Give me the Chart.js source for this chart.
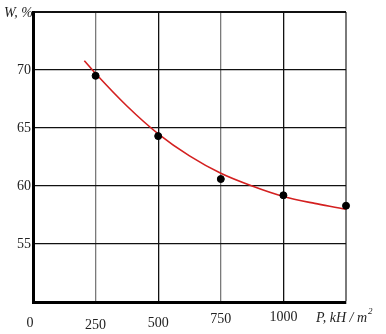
<!DOCTYPE html>
<html>
<head>
<meta charset="utf-8">
<script src="https://cdn.jsdelivr.net/npm/chart.js@4"></script>
<style>
  html, body { margin: 0; padding: 0; background: #fff; }
  #wrap { width: 386px; height: 334px; }
</style>
</head>
<body>
<div id="wrap"><canvas id="chart" width="386" height="334"></canvas></div>
<script>
// measured points
const pressure = [250, 500, 750, 1000, 1250];
const moisture = [69.5, 64.3, 60.6, 59.2, 58.3];

// fitted curve
const curveP = [205, 250, 375, 500, 625, 750, 875, 1000, 1125, 1250, 1270];
const curveW = [70.8, 69.7, 66.9, 64.5, 62.6, 61.1, 60.0, 59.1, 58.5, 58.0, 57.9];

const xTicks = [0, 250, 500, 750, 1000];
const xTickShift = [0, 2, 0, -4, -6];  // labels sit a bit uneven in the scan
const yTicks = [55, 60, 65, 70];

const serif = '"Liberation Serif", "DejaVu Serif", serif';

const labelsPlugin = {
    id: 'labels',
    afterDraw: function (chart) {
        const ctx = chart.ctx;
        const xs = chart.scales.x, ys = chart.scales.y;
        ctx.save();
        ctx.fillStyle = '#222';
        ctx.font = '14px ' + serif;
        ctx.textBaseline = 'middle';

        ctx.textAlign = 'right';
        yTicks.forEach(function (v) {
            ctx.fillText(String(v), xs.left - 2, ys.getPixelForValue(v));
        });

        ctx.textAlign = 'center';
        xTicks.forEach(function (v, i) {
            const px = v === 0 ? xs.getPixelForValue(v) - 3 : xs.getPixelForValue(v);
            ctx.fillText(String(v), px, ys.bottom + 21 + xTickShift[i]);
        });

        ctx.font = 'italic 14px ' + serif;
        ctx.textAlign = 'left';
        ctx.fillText('P, kH / m', xs.right - 30, ys.bottom + 16);
        const w = ctx.measureText('P, kH / m').width;
        ctx.font = 'italic 9px ' + serif;
        ctx.fillText('2', xs.right - 30 + w + 1, ys.bottom + 10);

        ctx.font = 'italic 14px ' + serif;
        ctx.textAlign = 'right';
        ctx.fillText('W, %', xs.left, ys.top + 1);
        ctx.restore();
    }
};

new Chart(document.getElementById('chart'), {
    type: 'scatter',
    data: {
        datasets: [{
            label: 'curve',
            data: curveP.map(function (p, i) { return { x: p, y: curveW[i] }; }),
            showLine: true,
            borderColor: '#d42020',
            borderWidth: 1.6,
            pointRadius: 0,
            cubicInterpolationMode: 'monotone',
            clip: false,
            order: 2
        }, {
            label: 'W',
            data: pressure.map(function (p, i) { return { x: p, y: moisture[i] }; }),
            backgroundColor: '#000',
            borderColor: '#000',
            pointRadius: 3.5,
            clip: false,
            order: 1
        }]
    },
    options: {
        responsive: false,
        animation: false,
        layout: { padding: { left: 33, top: 12, right: 40, bottom: 32 } },
        plugins: { legend: { display: false }, tooltip: { enabled: false } },
        scales: {
            x: {
                type: 'linear',
                min: 0, max: 1250,
                ticks: { display: false, stepSize: 250 },
                grid: {
                    drawTicks: false,
                    color: function (c) {
                        const v = c.tick.value;
                        return (v === 500 || v === 1000) ? '#111' : '#7a7a7a';
                    },
                    lineWidth: function (c) { return c.tick.value === 1250 ? 2 : 1.3; }
                },
                border: { color: '#000', width: 3 }
            },
            y: {
                min: 50, max: 75,
                ticks: { display: false, stepSize: 5 },
                grid: {
                    drawTicks: false,
                    color: '#111',
                    lineWidth: function (c) { return c.tick.value === 75 ? 2 : 1.2; }
                },
                border: { color: '#000', width: 3 }
            }
        }
    },
    plugins: [labelsPlugin]
});
</script>
</body>
</html>
